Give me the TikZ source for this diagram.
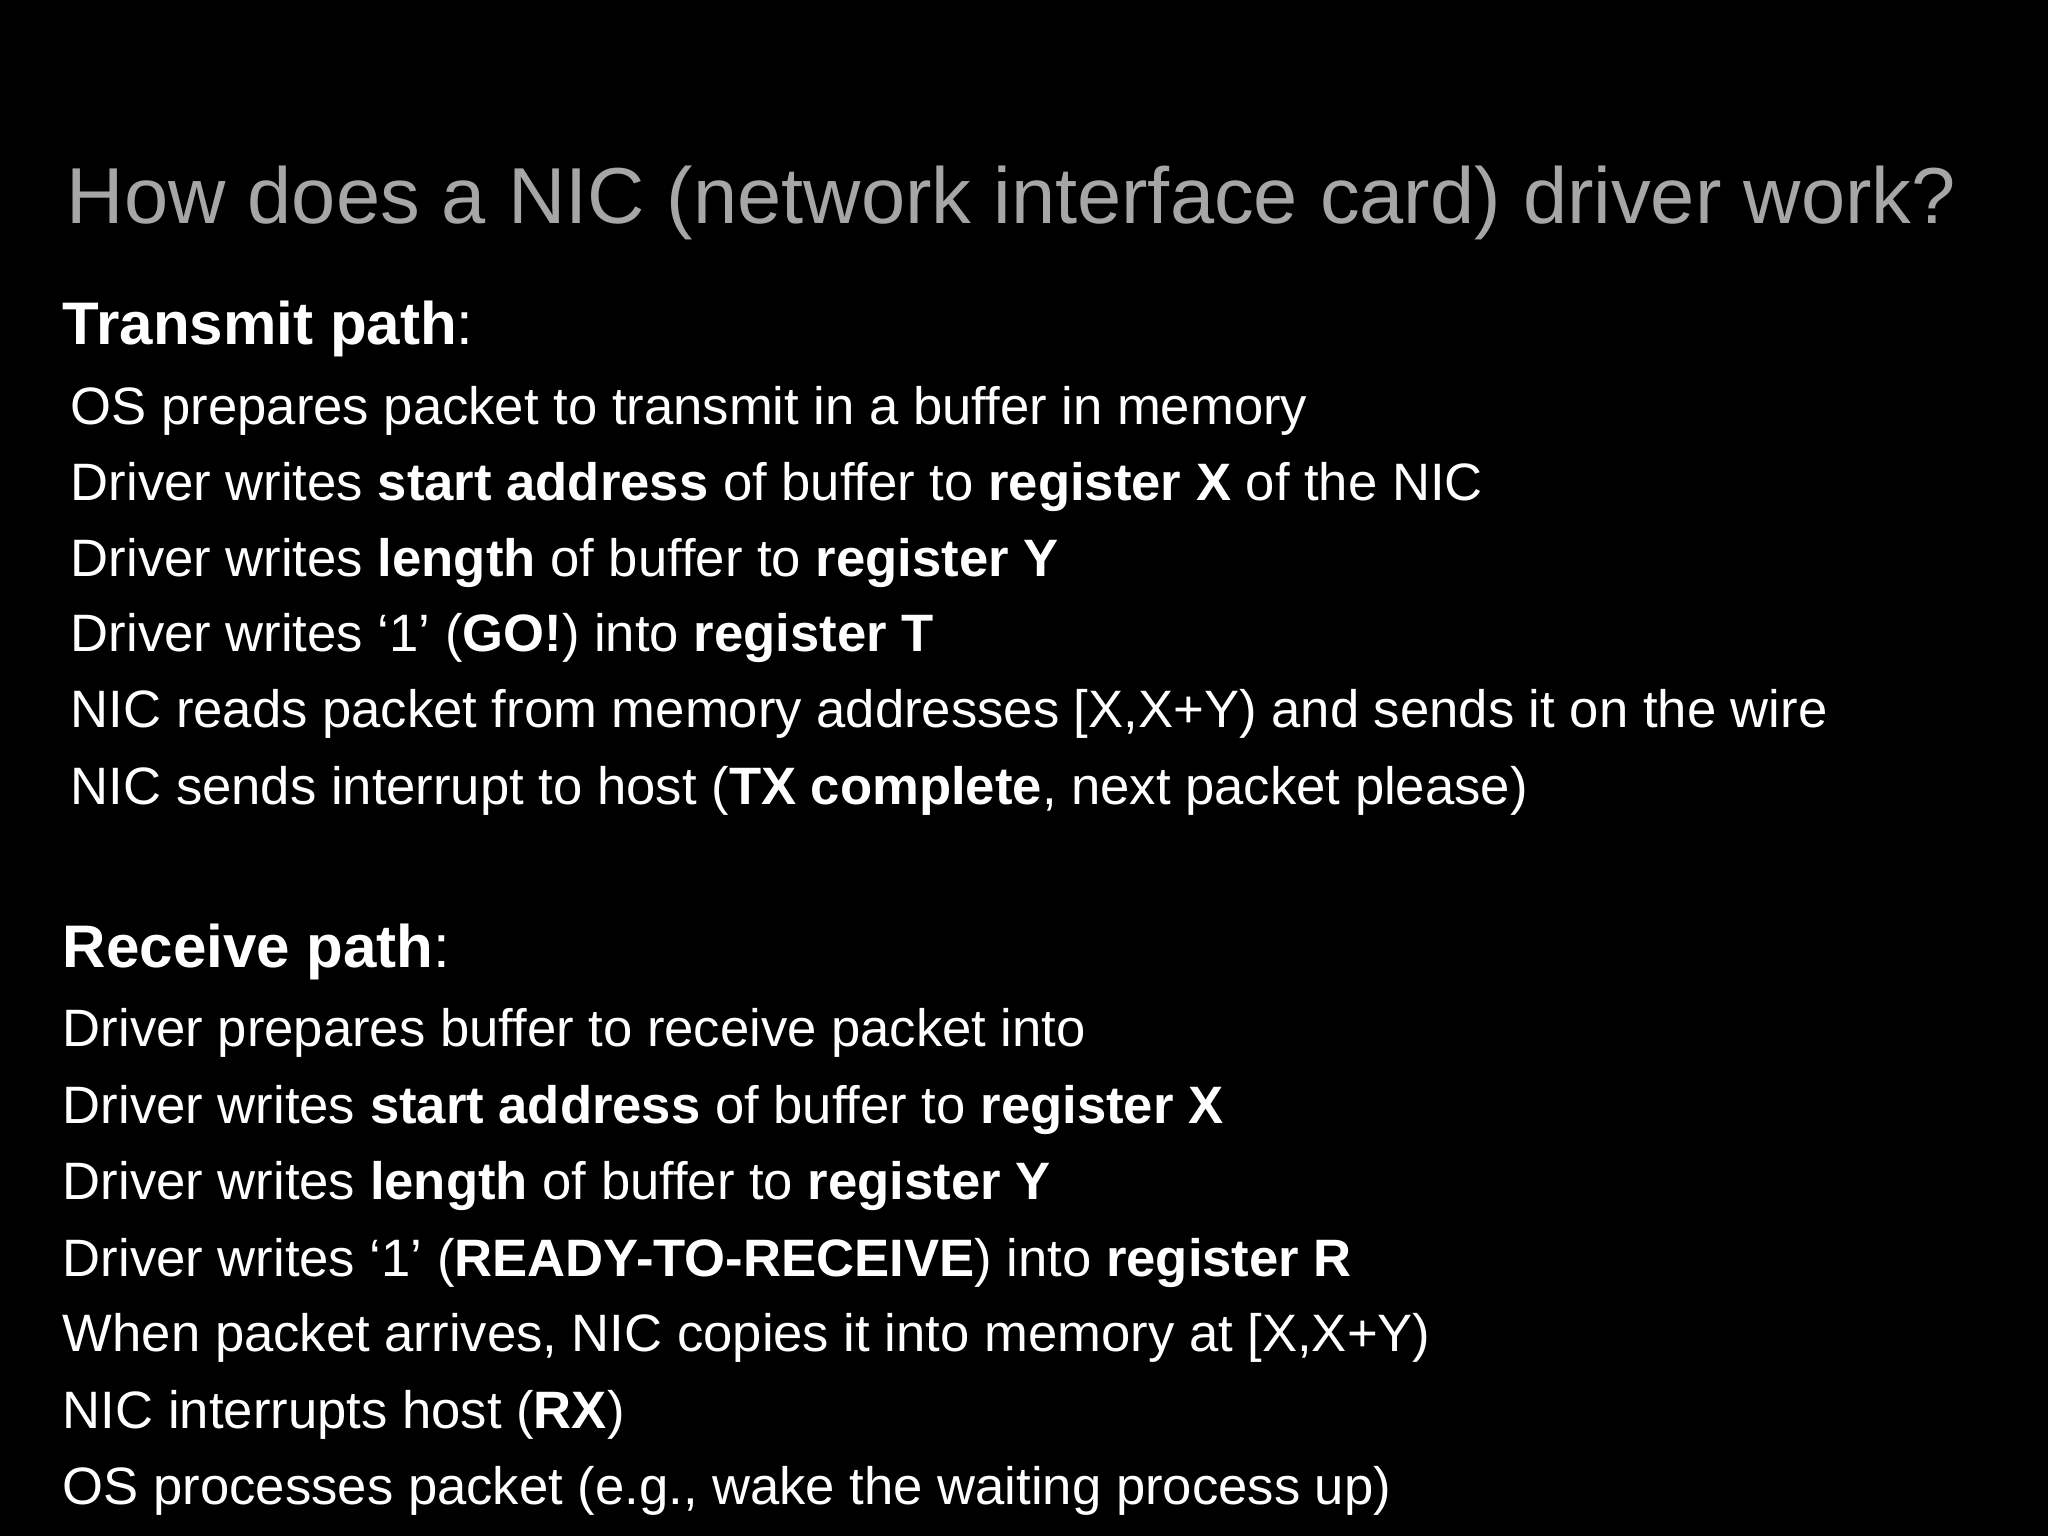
\documentclass[tikz,border=0pt]{standalone}
\usepackage{fontspec}
\setmainfont{Liberation Sans}
\definecolor{titlegray}{HTML}{A6A6A6}
\begin{document}
\begin{tikzpicture}[x=1pt,y=-1pt,
  line/.style={anchor=base west,inner sep=0pt,text=white,font=\fontsize{40.3}{42}\selectfont},
  head/.style={anchor=base west,inner sep=0pt,text=white,font=\fontsize{46}{48}\selectfont},
  ttl/.style={anchor=base west,inner sep=0pt,text=titlegray,font=\fontsize{60.8}{64}\selectfont}]
\fill[black] (0,0) rectangle (1568,1176);
\useasboundingbox (0,0) rectangle (1568,1176);
\node[ttl] (title) at (51,171) {How does a NIC (network interface card) driver work?};
\node[head] (th) at (48,264) {\textbf{Transmit path}:};
\node[line] (t1) at (54,325) {OS prepares packet to transmit in a buffer in memory};
\node[line] (t2) at (54,383) {Driver writes \textbf{start address} of buffer to \textbf{register X} of the NIC};
\node[line] (t3) at (54,441) {Driver writes \textbf{length} of buffer to \textbf{register Y}};
\node[line] (t4) at (54,499) {Driver writes ‘1’ (\textbf{GO!}) into \textbf{register T}};
\node[line] (t5) at (54,557) {NIC reads packet from memory addresses [X,X+Y) and sends it on the wire};
\node[line] (t6) at (54,616) {NIC sends interrupt to host (\textbf{TX complete}, next packet please)};
\node[head] (rh) at (48,741) {\textbf{Receive path}:};
\node[line] (r1) at (48,801) {Driver prepares buffer to receive packet into};
\node[line] (r2) at (48,860) {Driver writes \textbf{start address} of buffer to \textbf{register X}};
\node[line] (r3) at (48,918) {Driver writes \textbf{length} of buffer to \textbf{register Y}};
\node[line] (r4) at (48,977) {Driver writes ‘1’ (\textbf{READY-TO-RECEIVE}) into \textbf{register R}};
\node[line] (r5) at (48,1035) {When packet arrives, NIC copies it into memory at [X,X+Y)};
\node[line] (r6) at (48,1094) {NIC interrupts host (\textbf{RX})};
\node[line] (r7) at (48,1152) {OS processes packet (e.g., wake the waiting process up)};
\end{tikzpicture}
\end{document}
